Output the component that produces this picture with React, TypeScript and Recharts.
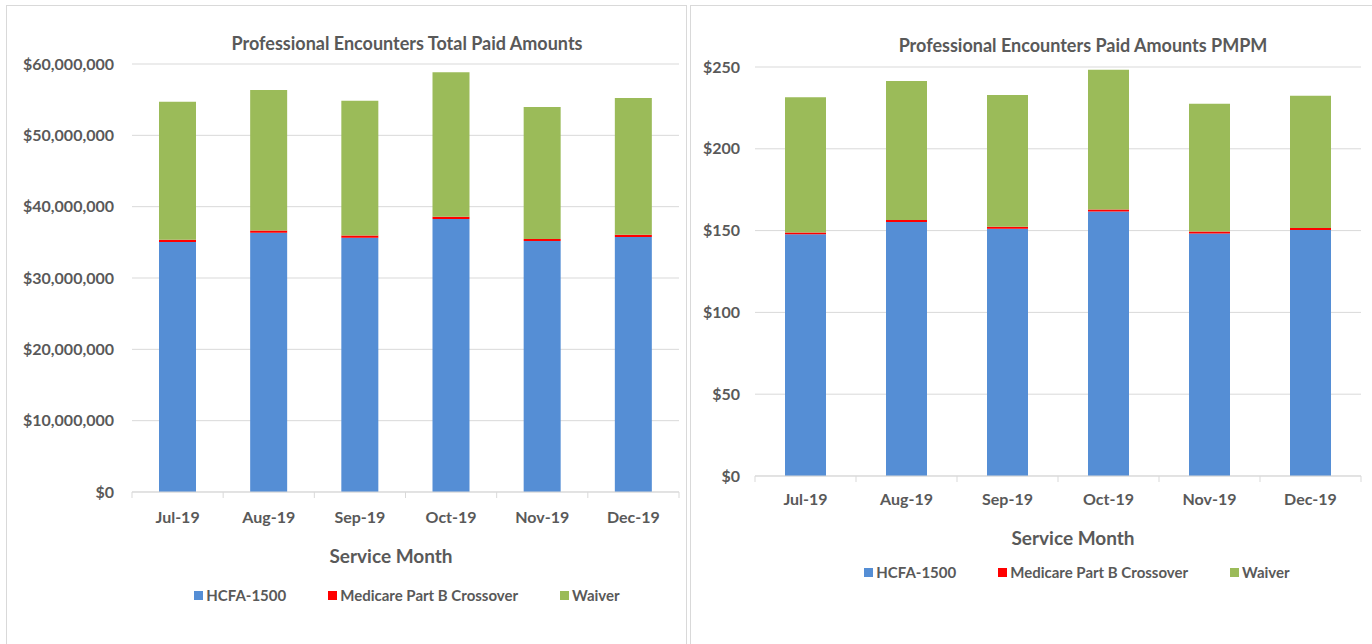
import { BarChart, Bar, XAxis, YAxis, CartesianGrid } from 'recharts'

const months = ['Jul-19', 'Aug-19', 'Sep-19', 'Oct-19', 'Nov-19', 'Dec-19']
const seriesNames = ['HCFA-1500', 'Medicare Part B Crossover', 'Waiver']
const seriesColors = ['#558ed5', '#ff0000', '#9bbb59']

// total paid amounts ($)
const totalHcfa = [35050000, 36350000, 35650000, 38270000, 35190000, 35750000]
const totalMedicare = [300000, 300000, 300000, 320000, 280000, 300000]
const totalWaiver = [19370000, 19710000, 18910000, 20250000, 18500000, 19190000]
const totalTicks = [0, 10000000, 20000000, 30000000, 40000000, 50000000, 60000000]

// paid amounts per member per month ($)
const pmpmHcfa = [147.7, 155.3, 151.2, 161.6, 148.3, 150.4]
const pmpmMedicare = [1.2, 1.2, 1.2, 1.3, 1.2, 1.2]
const pmpmWaiver = [82.6, 84.9, 80.5, 85.4, 78.1, 80.9]
const pmpmTicks = [0, 50, 100, 150, 200, 250]

const FONT = 'Lato, "Open Sans", Arial, sans-serif'
const TEXT = '#595959'
const GRID = '#d9d9d9'

const totalData = months.map((m, i) => ({
  month: m, hcfa: totalHcfa[i], medicare: totalMedicare[i], waiver: totalWaiver[i],
}))
const pmpmData = months.map((m, i) => ({
  month: m, hcfa: pmpmHcfa[i], medicare: pmpmMedicare[i], waiver: pmpmWaiver[i],
}))
const keys = ['hcfa', 'medicare', 'waiver']

function MonthTick({ x, y, payload, index, step, count, labelGap }: any) {
  const half = step / 2
  return (
    <g>
      <line x1={x - half} x2={x - half} y1={y} y2={y + 6} stroke={GRID} />
      {index === count - 1 && <line x1={x + half} x2={x + half} y1={y} y2={y + 6} stroke={GRID} />}
      <text x={x} y={y + labelGap} textAnchor="middle" dominantBaseline="middle"
        fill={TEXT} fontSize={16} fontWeight={700} fontFamily={FONT}>
        {payload.value}
      </text>
    </g>
  )
}

function Legend({ center, top }: { center: number; top: number }) {
  return (
    <div style={{
      position: 'absolute', left: center - 300, width: 600, top, height: 18,
      display: 'flex', justifyContent: 'center', alignItems: 'center', gap: 42,
      fontFamily: FONT, fontSize: 15, fontWeight: 700, color: TEXT,
    }}>
      {seriesNames.map((n, i) => (
        <div key={n} style={{ display: 'flex', alignItems: 'center', gap: 3 }}>
          <span style={{ width: 9, height: 9, background: seriesColors[i], display: 'inline-block' }} />
          <span>{n}</span>
        </div>
      ))}
    </div>
  )
}

function Text({ x, y, size, children }: any) {
  return (
    <div style={{
      position: 'absolute', left: x - 300, width: 600, top: y - size * 0.7, height: size * 1.4,
      lineHeight: `${size * 1.4}px`, textAlign: 'center', whiteSpace: 'nowrap',
      fontFamily: FONT, fontSize: size, fontWeight: 700, color: TEXT,
    }}>{children}</div>
  )
}

export default function App() {
  const leftStep = (679 - 132) / 6
  const rightStep = (1361 - 755) / 6
  return (
    <div style={{ position: 'absolute', left: 0, top: 0, width: 1372, height: 644, overflow: 'hidden', background: '#fff' }}>
      <div style={{ position: 'absolute', left: 6, top: 5, width: 679, height: 700, border: `1px solid ${GRID}` }} />
      <div style={{ position: 'absolute', left: 690, top: 5, width: 720, height: 700, border: `1px solid ${GRID}` }} />

      <div style={{ position: 'absolute', left: 0, top: 0 }}>
        <BarChart width={688} height={644} data={totalData}
          margin={{ top: 64, right: 9, left: 0, bottom: 112 }}>
          <CartesianGrid vertical={false} stroke={GRID} />
          <YAxis width={132} domain={[0, 60000000]} ticks={totalTicks} tickSize={0} tickMargin={18}
            axisLine={false} tickLine={false}
            tickFormatter={(v: number) => `$${v.toLocaleString('en-US')}`}
            tick={{ fill: TEXT, fontSize: 16, fontWeight: 700, fontFamily: FONT }} />
          <XAxis dataKey="month" height={40} tickSize={0} tickMargin={0} tickLine={false}
            axisLine={{ stroke: GRID }} interval={0}
            tick={(p: any) => <MonthTick {...p} step={leftStep} count={months.length} labelGap={27} />} />
          {keys.map((k, i) => (
            <Bar key={k} dataKey={k} name={seriesNames[i]} stackId="a" fill={seriesColors[i]}
              barSize={37} isAnimationActive={false} />
          ))}
        </BarChart>
      </div>

      <div style={{ position: 'absolute', left: 688, top: 0 }}>
        <BarChart width={684} height={644} data={pmpmData}
          margin={{ top: 67, right: 11, left: 0, bottom: 128 }}>
          <CartesianGrid vertical={false} stroke={GRID} />
          <YAxis width={67} domain={[0, 250]} ticks={pmpmTicks} tickSize={0} tickMargin={15}
            axisLine={false} tickLine={false}
            tickFormatter={(v: number) => `$${v}`}
            tick={{ fill: TEXT, fontSize: 16, fontWeight: 700, fontFamily: FONT }} />
          <XAxis dataKey="month" height={40} tickSize={0} tickMargin={0} tickLine={false}
            axisLine={{ stroke: GRID }} interval={0}
            tick={(p: any) => <MonthTick {...p} step={rightStep} count={months.length} labelGap={25} />} />
          {keys.map((k, i) => (
            <Bar key={k} dataKey={k} name={seriesNames[i]} stackId="a" fill={seriesColors[i]}
              barSize={41} isAnimationActive={false} />
          ))}
        </BarChart>
      </div>

      <Text x={407} y={44} size={18}>Professional Encounters Total Paid Amounts</Text>
      <Text x={391} y={556} size={19}>Service Month</Text>
      <Legend center={407} top={586} />

      <Text x={1083} y={46} size={18}>Professional Encounters Paid Amounts PMPM</Text>
      <Text x={1073} y={538} size={19}>Service Month</Text>
      <Legend center={1077} top={563} />
    </div>
  )
}
